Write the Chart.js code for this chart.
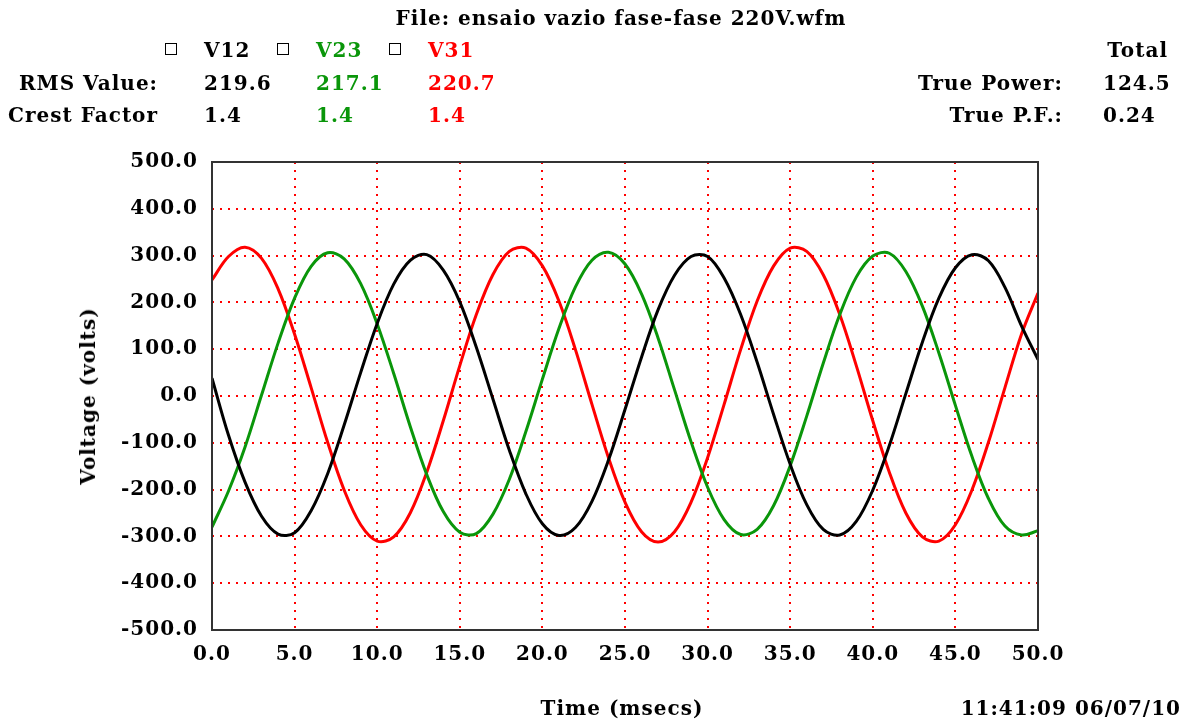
<!DOCTYPE html>
<html>
<head>
<meta charset="utf-8">
<script src="https://cdn.jsdelivr.net/npm/chart.js@4.4.1/dist/chart.umd.min.js"></script>
<style>
  html, body { margin: 0; padding: 0; background: #fff; }
  #wrap { position: absolute; left: 0; top: 0; width: 1181px; height: 724px; }
  .t { position: absolute; font-family: "DejaVu Serif", serif; font-weight: bold; font-size: 20px;
       letter-spacing: 1px; line-height: 24px; color: #000; white-space: nowrap; }
  .box { position: absolute; width: 10px; height: 10px; border: 1.5px solid #000; }
</style>
</head>
<body>
<div id="wrap">
  <canvas id="scope"></canvas>
</div>
<script>
// ===== Data =====
const seriesNames = ['V12', 'V23', 'V31'];
const seriesColors = ['#000000', '#0a960a', '#ff0000'];
const rmsValues = ['219.6', '217.1', '220.7'];
const crestFactors = ['1.4', '1.4', '1.4'];
const truePower = '124.5';
const truePF = '0.24';

// time in msecs, 1 ms steps
const timeMs = [0, 1, 2, 3, 4, 5, 6, 7, 8, 9, 10, 11, 12, 13, 14, 15, 16, 17, 18, 19, 20,
  21, 22, 23, 24, 25, 26, 27, 28, 29, 30, 31, 32, 33, 34, 35, 36, 37, 38, 39, 40,
  41, 42, 43, 44, 45, 46, 47, 48, 49, 50];

const v12 = [38, -84, -184, -257, -295, -292, -245, -166, -62, 50, 155, 239, 290, 302, 269, 201, 104, -6,
  -116, -209, -273, -298, -281, -225, -137, -29, 83, 184, 258, 298, 298, 252, 174, 72, -40, -146,
  -232, -285, -297, -268, -201, -106, 5, 115, 209, 274, 302, 289, 232, 150, 78];

const v23 = [-280, -203, -109, 2, 113, 209, 277, 306, 293, 240, 154, 48, -65, -168, -247, -291, -294,
  -253, -178, -76, 36, 144, 233, 290, 307, 282, 218, 124, 13, -98, -195, -264, -296, -285, -234,
  -149, -43, 70, 174, 254, 299, 305, 266, 192, 92, -20, -129, -219, -278, -297, -288];

const v31 = [248, 298, 318, 294, 229, 132, 18, -99, -201, -275, -310, -301, -250, -163, -53, 65, 174,
  259, 309, 316, 278, 203, 99, -18, -132, -227, -290, -312, -290, -227, -132, -18, 99, 203, 278,
  316, 309, 259, 174, 65, -53, -163, -250, -301, -310, -275, -201, -99, 18, 132, 220];

const xTicks = { min: 0, max: 50, step: 5 };
const yTicks = { min: -500, max: 500, step: 100 };

// ===== Header text =====
const wrap = document.getElementById('wrap');
function addText(str, x, cy, opts = {}) {
  const d = document.createElement('div');
  d.className = 't';
  d.textContent = str;
  d.style.top = (cy - 12) + 'px';
  if (opts.right !== undefined) {
    d.style.right = (1181 - opts.right) + 'px';
  } else if (opts.center) {
    d.style.left = x + 'px';
    d.style.transform = 'translateX(-50%)';
  } else {
    d.style.left = x + 'px';
  }
  if (opts.color) d.style.color = opts.color;
  wrap.appendChild(d);
  return d;
}

addText('File: ensaio vazio fase-fase 220V.wfm', 621, 18, { center: true });

const colX = [204, 316, 428];
seriesNames.forEach((name, i) => {
  const b = document.createElement('div');
  b.className = 'box';
  b.style.left = (colX[i] - 39) + 'px';
  b.style.top = '43px';
  wrap.appendChild(b);
  addText(name, colX[i], 50, { color: seriesColors[i] });
  addText(rmsValues[i], colX[i], 83, { color: seriesColors[i] });
  addText(crestFactors[i], colX[i], 115, { color: seriesColors[i] });
});
addText('RMS Value:', 0, 83, { right: 158 });
addText('Crest Factor', 0, 115, { right: 158 });
addText('Total', 0, 50, { right: 1168 });
addText('True Power:', 0, 83, { right: 1063 });
addText(truePower, 1103, 83);
addText('True P.F.:', 0, 115, { right: 1063 });
addText(truePF, 1103, 115);

const yTitle = addText('Voltage (volts)', 88, 396, { center: true });
yTitle.style.transform = 'translateX(-50%) rotate(-90deg)';
addText('Time (msecs)', 622, 708, { center: true });
addText('11:41:09 06/07/10', 0, 708, { right: 1181 });

// ===== Chart =====
const tickFont = { family: "'DejaVu Serif', serif", weight: 'bold', size: 20 };

const spacing = {
  id: 'spacing',
  beforeInit(chart) { chart.ctx.letterSpacing = '1px'; },
  beforeDraw(chart) { chart.ctx.letterSpacing = '1px'; }
};

const frame = {
  id: 'frame',
  afterDraw(chart) {
    const { ctx, chartArea: a } = chart;
    ctx.save();
    ctx.strokeStyle = '#333';
    ctx.lineWidth = 2;
    ctx.strokeRect(a.left, a.top, a.right - a.left, a.bottom - a.top);
    ctx.restore();
  }
};

const ctx = document.getElementById('scope').getContext('2d');
new Chart(ctx, {
  type: 'line',
  plugins: [spacing, frame],
  data: {
    datasets: [v12, v23, v31].map((vals, i) => ({
      label: seriesNames[i],
      data: timeMs.map((t, j) => ({ x: t, y: vals[j] })),
      borderColor: seriesColors[i],
      borderWidth: 3,
      pointRadius: 0,
      tension: 0.35,
      fill: false
    }))
  },
  options: {
    responsive: true,
    maintainAspectRatio: false,
    animation: false,
    layout: { padding: { left: 0, top: 162, right: 143, bottom: 44 } },
    plugins: {
      legend: { display: false },
      tooltip: { enabled: false }
    },
    scales: {
      x: {
        type: 'linear',
        min: xTicks.min,
        max: xTicks.max,
        afterFit: s => { s.height = 50; },
        ticks: {
          stepSize: xTicks.step,
          color: '#000',
          font: tickFont,
          padding: 13,
          maxRotation: 0,
          callback: v => v.toFixed(1)
        },
        grid: { color: '#ff0000', lineWidth: 2, drawTicks: false },
        border: { display: false, dash: [2, 6] }
      },
      y: {
        min: yTicks.min,
        max: yTicks.max,
        afterFit: s => { s.width = 212; },
        ticks: {
          stepSize: yTicks.step,
          color: '#000',
          font: tickFont,
          padding: 14,
          callback: v => v.toFixed(1)
        },
        grid: { color: '#ff0000', lineWidth: 2, drawTicks: false },
        border: { display: false, dash: [2, 6] }
      }
    }
  }
});
</script>
</body>
</html>
